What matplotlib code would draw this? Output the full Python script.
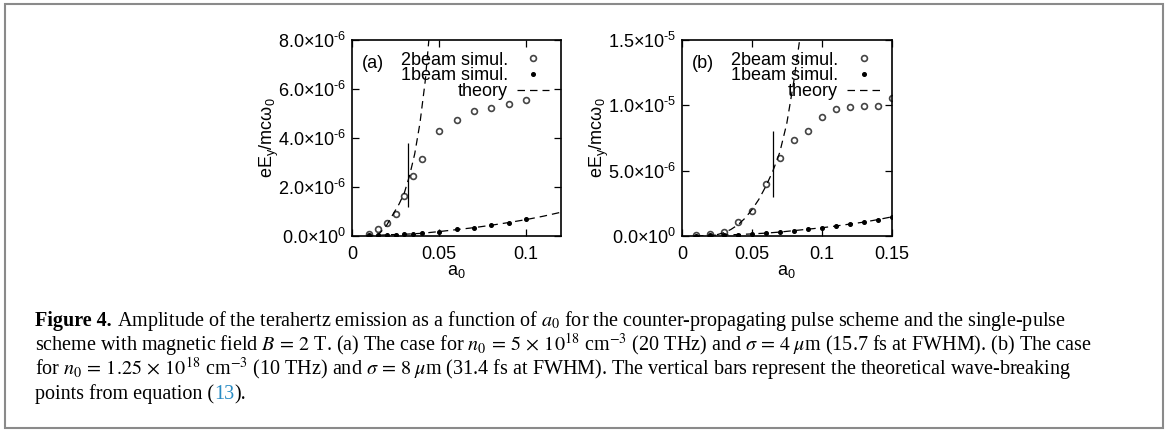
import matplotlib
matplotlib.use('Agg')
import matplotlib.pyplot as plt
from matplotlib.patches import Rectangle

plt.rcParams['font.family'] = ['Liberation Sans', 'DejaVu Sans']
plt.rcParams['mathtext.fontset'] = 'custom'
plt.rcParams['mathtext.rm'] = 'Liberation Sans'
plt.rcParams['mathtext.it'] = 'Liberation Sans:italic'
plt.rcParams['mathtext.bf'] = 'Liberation Sans:bold'

# ---- panel (a) data, n0 = 5e18 ----
a_sim_a = [0.01, 0.015, 0.02, 0.025, 0.03, 0.035, 0.04, 0.05, 0.06, 0.07, 0.08, 0.09, 0.1]
two_beam_a = [0.07e-6, 0.27e-6, 0.54e-6, 0.91e-6, 1.65e-6, 2.45e-6, 3.14e-6,
              4.27e-6, 4.73e-6, 5.12e-6, 5.21e-6, 5.39e-6, 5.55e-6]
one_beam_a = [0.03e-6, 0.04e-6, 0.05e-6, 0.06e-6, 0.07e-6, 0.10e-6, 0.11e-6,
              0.18e-6, 0.27e-6, 0.34e-6, 0.45e-6, 0.54e-6, 0.68e-6]
a_th2_a = [0.0145, 0.017, 0.02, 0.024, 0.027, 0.03, 0.033, 0.036, 0.039, 0.042, 0.0445]
th2_a = [0.0, 0.2e-6, 0.45e-6, 0.94e-6, 1.3e-6, 1.75e-6, 2.45e-6, 3.35e-6, 4.6e-6, 6.3e-6, 8.3e-6]
a_th1_a = [0.008, 0.02, 0.03, 0.04, 0.05, 0.06, 0.07, 0.08, 0.09, 0.1, 0.11, 0.12]
th1_a = [0.0, 0.05e-6, 0.07e-6, 0.11e-6, 0.18e-6, 0.26e-6, 0.34e-6, 0.44e-6,
         0.55e-6, 0.67e-6, 0.81e-6, 0.97e-6]
wb_a = 0.032
wb_range_a = [1.2e-6, 3.8e-6]
xticks_a = [0, 0.05, 0.1]
xlabels_a = ['0', '0.05', '0.1']
yticks_a = [0, 2e-6, 4e-6, 6e-6, 8e-6]
ylabels_a = ['0.0×10$^{0}$', '2.0×10$^{\\text{-}6}$', '4.0×10$^{\\text{-}6}$',
             '6.0×10$^{\\text{-}6}$', '8.0×10$^{\\text{-}6}$']

# ---- panel (b) data, n0 = 1.25e18 ----
a_sim_b = [0.01, 0.02, 0.03, 0.04, 0.05, 0.06, 0.07, 0.08, 0.09, 0.1, 0.11, 0.12, 0.13, 0.14, 0.15]
two_beam_b = [0.05e-6, 0.13e-6, 0.31e-6, 1.08e-6, 1.92e-6, 3.95e-6, 5.97e-6, 7.38e-6,
              8.05e-6, 9.08e-6, 9.72e-6, 9.85e-6, 9.92e-6, 9.95e-6, 10.59e-6]
one_beam_b = [0.0, 0.05e-6, 0.07e-6, 0.10e-6, 0.15e-6, 0.22e-6, 0.30e-6, 0.42e-6,
              0.52e-6, 0.62e-6, 0.75e-6, 0.90e-6, 1.05e-6, 1.26e-6, 1.46e-6]
a_th2_b = [0.025, 0.03, 0.035, 0.04, 0.045, 0.05, 0.055, 0.06, 0.065, 0.07, 0.075, 0.08, 0.0845]
th2_b = [0.1e-6, 0.25e-6, 0.5e-6, 0.85e-6, 1.35e-6, 2.0e-6, 2.8e-6, 3.8e-6, 4.95e-6,
         6.4e-6, 8.6e-6, 11.8e-6, 15.2e-6]
a_th1_b = [0.01, 0.02, 0.03, 0.04, 0.05, 0.06, 0.07, 0.08, 0.09, 0.1, 0.11, 0.12, 0.13, 0.14, 0.15]
th1_b = [0.0, 0.05e-6, 0.08e-6, 0.11e-6, 0.16e-6, 0.22e-6, 0.30e-6, 0.41e-6,
         0.52e-6, 0.63e-6, 0.76e-6, 0.91e-6, 1.06e-6, 1.25e-6, 1.46e-6]
wb_b = 0.0653
wb_range_b = [3.0e-6, 8.0e-6]
xticks_b = [0, 0.05, 0.1, 0.15]
xlabels_b = ['0', '0.05', '0.1', '0.15']
yticks_b = [0, 5e-6, 1e-5, 1.5e-5]
ylabels_b = ['0.0×10$^{0}$', '5.0×10$^{\\text{-}6}$', '1.0×10$^{\\text{-}5}$', '1.5×10$^{\\text{-}5}$']

fig = plt.figure(figsize=(11.68, 4.32), dpi=100)
fig.patches.append(Rectangle((5 / 1168, 4 / 432), 1158 / 1168, 424 / 432,
                             transform=fig.transFigure, fill=False,
                             edgecolor='#8a8a8a', lw=1.5))

def panel(rect, tag, a_sim, two, one, a_t2, t2, a_t1, t1, wb, wb_rng,
          xt, xl, yt, yl, xmax, ymax):
    ax = fig.add_axes(rect)
    ax.plot(a_sim, two, 'o', ms=4.2, mfc='none', mec='#444444', mew=1.2, label='2beam simul.')
    ax.plot(a_sim, one, 'o', ms=2.6, color='k', label='1beam simul.')
    ax.plot(a_t2, t2, color='k', lw=0.9, dashes=(6, 4), label='theory')
    ax.plot(a_t1, t1, color='k', lw=0.9, dashes=(6, 4))
    ax.vlines(wb, wb_rng[0], wb_rng[1], color='k', lw=0.9)
    ax.set_xlim(0, xmax)
    ax.set_ylim(0, ymax)
    ax.set_xticks(xt)
    ax.set_xticklabels(xl)
    ax.set_yticks(yt)
    ax.set_yticklabels(yl)
    ax.tick_params(direction='in', top=True, right=True, length=5, width=0.9,
                   labelsize=13)
    ax.tick_params(axis='x', pad=7)
    ax.tick_params(axis='y', pad=4)
    for s in ax.spines.values():
        s.set_linewidth(1.2)
    ax.set_xlabel('a$_0$', fontsize=13, labelpad=0)
    ax.set_ylabel('eE$_\\mathrm{y}$/mcω$_0$', fontsize=13, labelpad=-2)
    ax.text(0.045, 0.855, tag, transform=ax.transAxes, fontsize=13)
    ax.legend(loc='upper right', frameon=False, markerfirst=False, numpoints=1,
              fontsize=13, handlelength=1.8, handletextpad=0.5,
              labelspacing=-0.08, borderaxespad=0.35, borderpad=0.3)
    return ax

panel([352 / 1168, 1 - 236 / 432, 209 / 1168, 196 / 432], '(a)',
      a_sim_a, two_beam_a, one_beam_a, a_th2_a, th2_a, a_th1_a, th1_a,
      wb_a, wb_range_a, xticks_a, xlabels_a, yticks_a, ylabels_a, 0.12, 8e-6)
panel([682 / 1168, 1 - 236 / 432, 209.5 / 1168, 196 / 432], '(b)',
      a_sim_b, two_beam_b, one_beam_b, a_th2_b, th2_b, a_th1_b, th1_b,
      wb_b, wb_range_b, xticks_b, xlabels_b, yticks_b, ylabels_b, 0.15, 1.5e-5)

# ---- caption ----
cap = dict(fontfamily='Liberation Serif', fontsize=14.5, math_fontfamily='stix', va='baseline')
caption_lines = [
    [('Figure 4.', 'bold', 'k'),
     (' Amplitude of the terahertz emission as a function of $a_0$ for the counter-propagating pulse scheme and the single-pulse', 'normal', 'k')],
    [('scheme with magnetic field $B\\,=\\,2$ T. (a) The case for $n_0\\,=\\,5\\,\\times\\,10^{18}$ cm$^{-3}$ (20 THz) and $\\sigma\\,=\\,4\\;\\mu$m (15.7 fs at FWHM). (b) The case', 'normal', 'k')],
    [('for $n_0\\,=\\,1.25\\,\\times\\,10^{18}$ cm$^{-3}$ (10 THz) and $\\sigma\\,=\\,8\\;\\mu$m (31.4 fs at FWHM). The vertical bars represent the theoretical wave-breaking', 'normal', 'k')],
    [('points from equation (', 'normal', 'k'), ('13', 'normal', '#2a8cc4'), (').', 'normal', 'k')],
]
baselines = [326, 350.5, 375, 399]
renderer = fig.canvas.get_renderer()
for segs, yb in zip(caption_lines, baselines):
    x = 35
    for s, w, c in segs:
        t = fig.text(x / 1168, 1 - yb / 432, s, fontweight=w, color=c, **cap)
        x += t.get_window_extent(renderer).width

fig.savefig('out.png', dpi=100)
